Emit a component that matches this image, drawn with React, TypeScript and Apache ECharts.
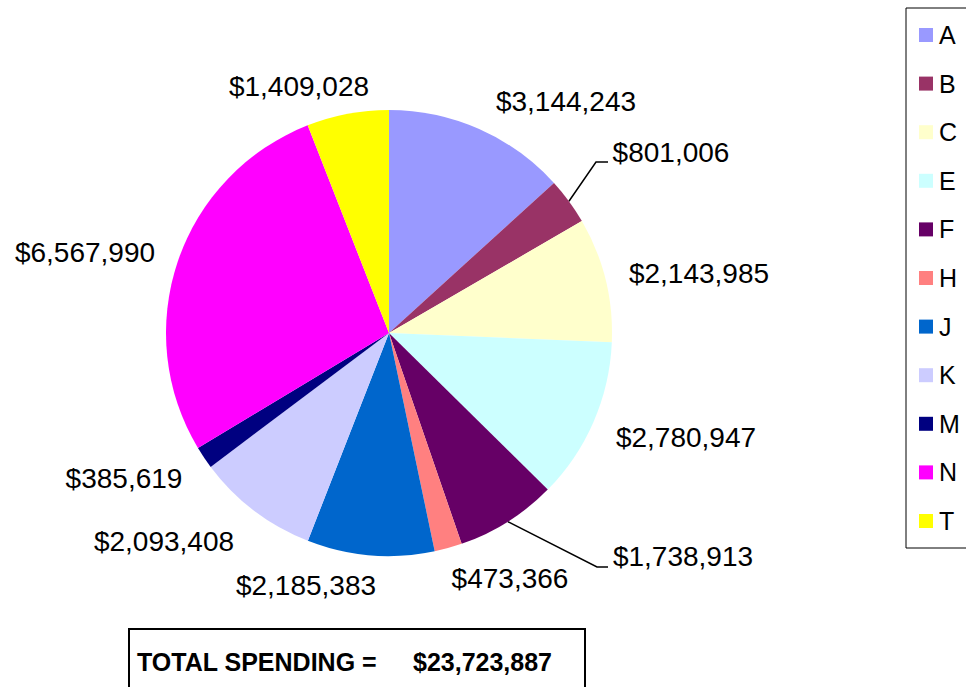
import React, { useEffect, useRef } from "react";
import * as echarts from "echarts";

const categories = ["A", "B", "C", "E", "F", "H", "J", "K", "M", "N", "T"];
const spending = [3144243, 801006, 2143985, 2780947, 1738913, 473366, 2185383, 2093408, 385619, 6567990, 1409028];
const colors = ["#9999FF", "#993366", "#FFFFCC", "#CCFFFF", "#660066", "#FF8080", "#0066CC", "#CCCCFF", "#000080", "#FF00FF", "#FFFF00"];
const totalLabel = "TOTAL SPENDING =";
const totalSpending = 23723887;
const withLeader = ["B", "F"];

// label centres (layout only)
const labelCenters: Record<string, [number, number]> = {
  A: [566, 101],
  B: [671, 152],
  C: [699, 273],
  E: [686, 437],
  F: [683, 556],
  H: [510, 578],
  J: [306, 585],
  K: [164, 541],
  M: [124, 478],
  N: [85, 252],
  T: [299, 86],
};
const leaderBends: Record<string, [number, number][]> = {
  B: [[596, 162], [608, 162]],
  F: [[597, 567], [608, 567]],
};

const fmt = (v: number) => "$" + v.toLocaleString("en-US");
const FONT = "'Liberation Sans', Arial, Helvetica, sans-serif";

export default function App() {
  const ref = useRef<HTMLDivElement>(null);
  useEffect(() => {
    if (!ref.current) return;
    const chart = echarts.init(ref.current, null, { renderer: "svg" });
    const data = categories.map((c, i) => ({
      name: c,
      value: spending[i],
      itemStyle: { color: colors[i] },
      labelLine: { show: withLeader.includes(c) },
    }));
    chart.setOption({
      animation: false,
      backgroundColor: "#ffffff",
      legend: {
        orient: "vertical",
        left: 906,
        top: 8,
        data: categories,
        icon: "rect",
        itemWidth: 14,
        itemHeight: 14,
        itemGap: 23.6,
        padding: [14.5, 60, 14.5, 13],
        borderColor: "#000000",
        borderWidth: 1,
        textStyle: { fontFamily: FONT, fontSize: 25, color: "#000000", padding: [0, 0, 0, 1] },
      },
      series: [
        {
          type: "pie",
          center: [389, 333],
          radius: 223,
          startAngle: 90,
          clockwise: true,
          data,
          label: {
            show: true,
            position: "outside",
            formatter: (p: any) => fmt(p.value),
            fontFamily: FONT,
            fontSize: 28,
            color: "#000000",
            overflow: "none",
            edgeDistance: 0,
            bleedMargin: 0,
          },
          labelLine: {
            show: false,
            length: 20,
            length2: 10,
            lineStyle: { color: "#000000", width: 1.5 },
          },
          labelLayout: (p: any) => {
            const name = categories[p.dataIndex];
            const c = labelCenters[name];
            const res: any = { x: c[0], y: c[1], align: "center", verticalAlign: "middle" };
            if (leaderBends[name] && p.labelLinePoints) {
              res.labelLinePoints = [p.labelLinePoints[0], ...leaderBends[name]];
            }
            return res;
          },
          emphasis: { disabled: true },
        },
      ],
      graphic: [
        {
          type: "group",
          left: 128,
          top: 628,
          children: [
            {
              type: "rect",
              shape: { x: 0, y: 0, width: 456, height: 80 },
              style: { fill: "#ffffff", stroke: "#000000", lineWidth: 2 },
            },
            {
              type: "text",
              x: 8,
              y: 33,
              style: {
                text: totalLabel,
                font: `bold 25px ${FONT}`,
                fill: "#000000",
                verticalAlign: "middle",
              },
            },
            {
              type: "text",
              x: 284,
              y: 33,
              style: {
                text: fmt(totalSpending),
                font: `bold 25px ${FONT}`,
                fill: "#000000",
                verticalAlign: "middle",
              },
            },
          ],
        },
      ],
    });
    return () => chart.dispose();
  }, []);
  return (
    <div
      ref={ref}
      style={{ position: "fixed", left: 0, top: 0, width: 966, height: 687, background: "#fff" }}
    />
  );
}
